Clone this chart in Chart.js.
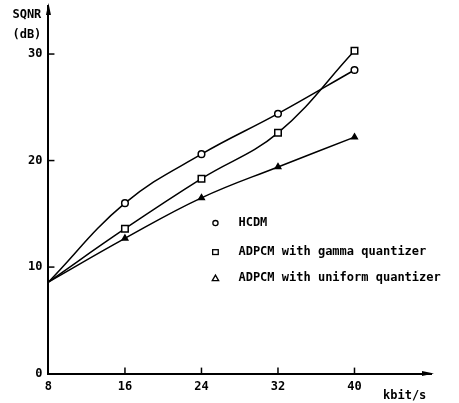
<!DOCTYPE html>
<html><head><meta charset="utf-8">
<script src="https://cdn.jsdelivr.net/npm/chart.js@4"></script>
<style>html,body{margin:0;padding:0;background:#fff}#wrap{width:459px;height:403px}</style>
</head><body><div id="wrap"><canvas id="c" width="459" height="403"></canvas></div>
<script>
const bitRates = [8, 16, 24, 32, 40];
const hcdm = [8.6, 16.0, 20.6, 24.4, 28.5];
const adpcmGamma = [8.6, 13.6, 18.3, 22.6, 30.3];
const adpcmUniform = [8.6, 12.7, 16.5, 19.4, 22.2];
const xTicks = [8, 16, 24, 32, 40];
const yTicks = [0, 10, 20, 30];
const seriesNames = ['HCDM', 'ADPCM with gamma quantizer', 'ADPCM with uniform quantizer'];
const yTitle = ['SQNR', '(dB)'];
const xTitle = 'kbit/s';

const FONT = 'bold 12px "DejaVu Sans Mono"';
const toPts = arr => bitRates.map((x, i) => ({x: x, y: arr[i]}));
const radii = r => bitRates.map((x, i) => i === 0 ? 0 : r);

function mkDs(label, arr, style, r, fill) {
  return {
    label: label, data: toPts(arr), borderColor: '#000', borderWidth: 1.5,
    tension: 0.4, pointStyle: style, pointRadius: radii(r),
    pointBorderColor: '#000', pointBorderWidth: 1.5, pointBackgroundColor: fill,
    pointHoverRadius: radii(r), fill: false
  };
}

const decor = {
  id: 'decor',
  afterDraw(chart) {
    const ctx = chart.ctx, xs = chart.scales.x, ys = chart.scales.y, a = chart.chartArea;
    ctx.save();
    ctx.strokeStyle = '#000'; ctx.fillStyle = '#000'; ctx.lineWidth = 1.5;
    // inner tick marks
    yTicks.forEach(v => { if (v === 0) return; const py = ys.getPixelForValue(v);
      ctx.beginPath(); ctx.moveTo(a.left, py); ctx.lineTo(a.left + 6, py); ctx.stroke(); });
    xTicks.forEach(v => { if (v === 8) return; const px = xs.getPixelForValue(v);
      ctx.beginPath(); ctx.moveTo(px, a.bottom); ctx.lineTo(px, a.bottom - 6); ctx.stroke(); });
    // arrows
    ctx.beginPath(); ctx.moveTo(a.left, a.top - 3); ctx.lineTo(a.left - 2.5, a.top + 9); ctx.lineTo(a.left + 2.5, a.top + 9); ctx.closePath(); ctx.fill();
    ctx.beginPath(); ctx.moveTo(a.right + 3, a.bottom); ctx.lineTo(a.right - 9, a.bottom - 2.5); ctx.lineTo(a.right - 9, a.bottom + 2.5); ctx.closePath(); ctx.fill();
    // titles
    ctx.font = FONT; ctx.textBaseline = 'middle'; ctx.textAlign = 'left';
    ctx.fillText(yTitle[0], a.left - 36, a.top + 9);
    ctx.fillText(yTitle[1], a.left - 36, a.top + 29);
    ctx.fillText(xTitle, a.right - 48, a.bottom + 22);
    // legend
    const lx = a.left + 167, tx = a.left + 190, rows = [a.top + 217, a.top + 246, a.top + 272];
    ctx.lineWidth = 1.3;
    ctx.beginPath(); ctx.arc(lx, rows[0], 2.6, 0, Math.PI * 2); ctx.stroke();
    ctx.strokeRect(lx - 2.8, rows[1] - 2.4, 5.6, 4.8);
    ctx.beginPath(); ctx.moveTo(lx, rows[2] - 3); ctx.lineTo(lx - 3.2, rows[2] + 2.6); ctx.lineTo(lx + 3.2, rows[2] + 2.6); ctx.closePath(); ctx.stroke();
    seriesNames.forEach((n, i) => ctx.fillText(n, tx, rows[i]));
    ctx.restore();
  }
};

new Chart(document.getElementById('c'), {
  type: 'line',
  data: { datasets: [
    mkDs(seriesNames[0], hcdm, 'circle', 3.3, '#fff'),
    mkDs(seriesNames[1], adpcmGamma, 'rect', 4.6, '#fff'),
    mkDs(seriesNames[2], adpcmUniform, 'triangle', 3.2, '#000')
  ]},
  options: {
    responsive: false, animation: false, devicePixelRatio: 1,
    layout: { padding: { left: 22, right: 28, top: 4, bottom: 3 } },
    plugins: { legend: { display: false }, tooltip: { enabled: false } },
    scales: {
      x: { type: 'linear', min: 8, max: 48,
        afterBuildTicks: s => { s.ticks = xTicks.map(v => ({value: v})); },
        afterFit: s => { s.paddingLeft = 0; s.paddingRight = 0; },
        ticks: { font: { family: 'DejaVu Sans Mono', size: 12, weight: 'bold' }, color: '#000', padding: 6, maxRotation: 0 },
        grid: { display: false, drawTicks: false },
        border: { display: true, color: '#000', width: 2 } },
      y: { type: 'linear', min: 0, max: 34.5,
        afterBuildTicks: s => { s.ticks = yTicks.map(v => ({value: v})); },
        afterFit: s => { s.paddingTop = 0; s.paddingBottom = 0; },
        ticks: { font: { family: 'DejaVu Sans Mono', size: 12, weight: 'bold' }, color: '#000', padding: 6 },
        grid: { display: false, drawTicks: false },
        border: { display: true, color: '#000', width: 2 } }
    }
  },
  plugins: [decor]
});
</script></body></html>
